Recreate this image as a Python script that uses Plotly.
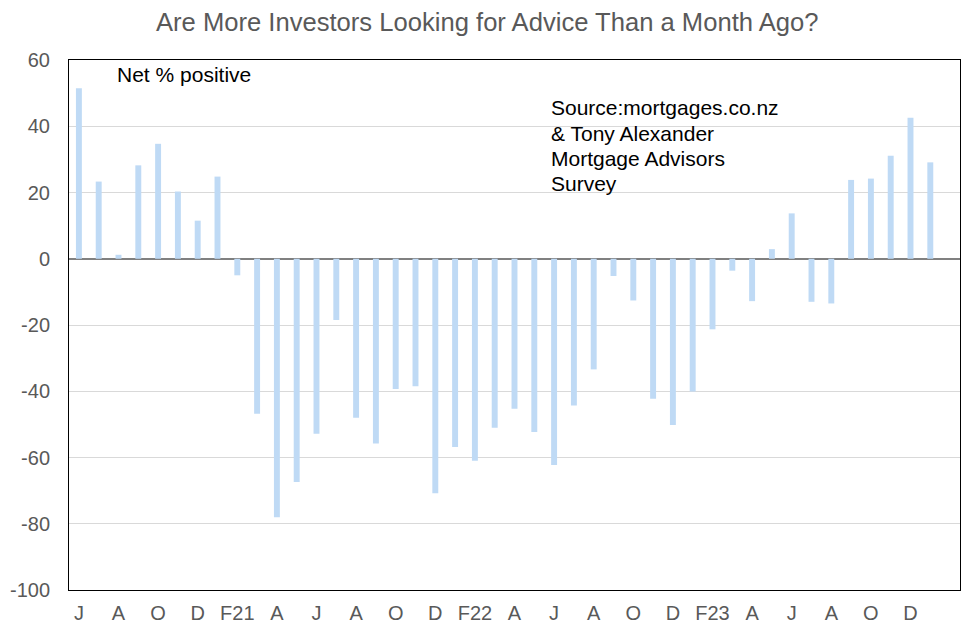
import plotly.graph_objects as go

# Monthly survey, Jun 2020 - Jan 2024
months = [
    "Jun20", "Jul20", "Aug20", "Sep20", "Oct20", "Nov20", "Dec20",
    "Jan21", "Feb21", "Mar21", "Apr21", "May21", "Jun21", "Jul21", "Aug21", "Sep21", "Oct21", "Nov21", "Dec21",
    "Jan22", "Feb22", "Mar22", "Apr22", "May22", "Jun22", "Jul22", "Aug22", "Sep22", "Oct22", "Nov22", "Dec22",
    "Jan23", "Feb23", "Mar23", "Apr23", "May23", "Jun23", "Jul23", "Aug23", "Sep23", "Oct23", "Nov23", "Dec23",
    "Jan24",
]
net_positive = [
    51.5, 23.3, 1.2, 28.2, 34.7, 20.3, 11.5,
    24.8, -5, -46.8, -78, -67.4, -52.8, -18.5, -48, -55.8, -39.3, -38.5, -70.8,
    -56.8, -61, -51, -45.3, -52.3, -62.3, -44.3, -33.4, -5.2, -12.6, -42.3, -50.2,
    -40.1, -21.3, -3.6, -12.8, 2.9, 13.7, -13, -13.5, 23.8, 24.2, 31.1, 42.6,
    29.1,
]
tick_months = months[::2]
tick_labels = ["J", "A", "O", "D", "F21", "A", "J", "A", "O", "D", "F22",
               "A", "J", "A", "O", "D", "F23", "A", "J", "A", "O", "D"]
y_ticks = [-100, -80, -60, -40, -20, 0, 20, 40, 60]
y_tick_labels = ["-100", "-80", "-60", "-40", "-20", "0", "20", "40", "60"]
source_lines = ["Source:mortgages.co.nz", "&amp; Tony Alexander", "Mortgage Advisors", "Survey"]

font = "Liberation Sans, Arial, sans-serif"

fig = go.Figure(go.Bar(
    x=months,
    y=net_positive,
    width=0.3,
    marker=dict(color="#BFDAF5", line=dict(width=0)),
))

annotations = [
    dict(text="Net % positive", xref="paper", yref="paper",
         x=0.0516, y=0.972, xanchor="left", yanchor="middle", showarrow=False,
         font=dict(size=21, color="black", family=font)),
]
for i, line in enumerate(source_lines):
    annotations.append(dict(
        text=line, xref="paper", yref="paper",
        x=0.5387, y=0.910 - i * 0.0478, xanchor="left", yanchor="middle",
        showarrow=False, font=dict(size=21, color="black", family=font)))

fig.update_layout(
    title=dict(text="Are More Investors Looking for Advice Than a Month Ago?",
               x=0.491, xanchor="center", y=0.978, yanchor="middle",
               font=dict(size=25.6, color="#595959", family=font)),
    width=976,
    height=636,
    margin=dict(l=61, r=24, t=52, b=54),
    paper_bgcolor="white",
    plot_bgcolor="white",
    showlegend=False,
    xaxis=dict(
        type="category",
        categoryorder="array",
        categoryarray=months,
        range=[-0.5, len(months) + 0.5],
        tickmode="array",
        tickvals=tick_months,
        ticktext=tick_labels,
        tickfont=dict(size=20, color="#595959", family=font),
        showgrid=False,
        showline=True,
        linecolor="black",
        linewidth=1,
        mirror=True,
        ticks="outside",
        ticklen=5,
        tickcolor="rgba(0,0,0,0)",
        automargin=False,
    ),
    yaxis=dict(
        range=[-100, 60],
        tickmode="array",
        tickvals=y_ticks,
        ticktext=y_tick_labels,
        tickfont=dict(size=20, color="#595959", family=font),
        showgrid=True,
        gridcolor="#D9D9D9",
        gridwidth=1,
        zeroline=True,
        zerolinecolor="#808080",
        zerolinewidth=2,
        showline=True,
        linecolor="black",
        linewidth=1,
        mirror=True,
        ticks="outside",
        ticklen=14,
        tickcolor="rgba(0,0,0,0)",
        automargin=False,
    ),
    annotations=annotations,
)

fig.write_html("out.html")
